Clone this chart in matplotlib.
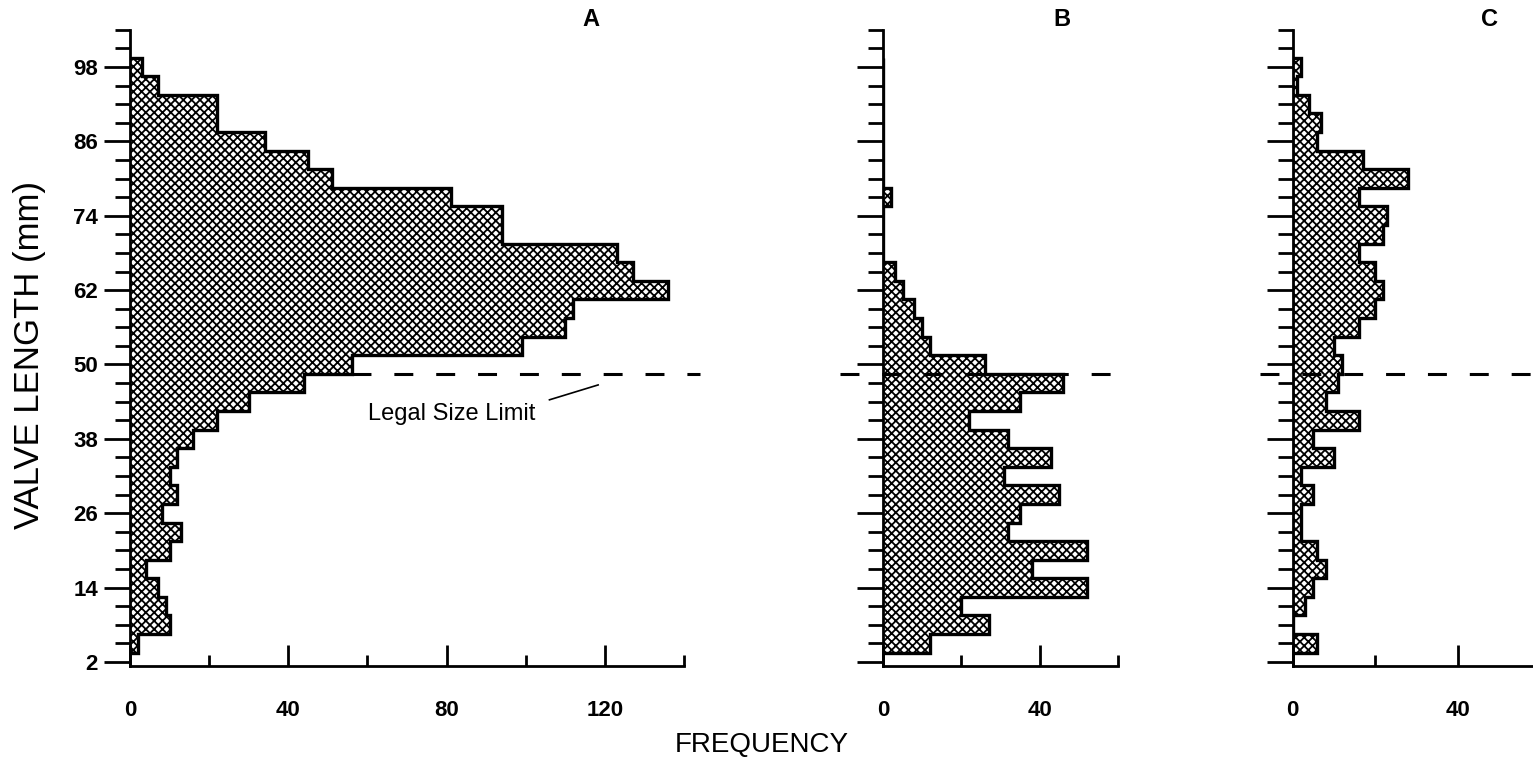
import numpy as np
import matplotlib.pyplot as plt

plt.rcParams['font.family'] = ['Liberation Sans', 'DejaVu Sans']
plt.rcParams['hatch.linewidth'] = 1.3

# Longitud de la valva (centros de clase, mm) y frecuencias
centros = [5, 8, 11, 14, 17, 20, 23, 26, 29, 32, 35, 38, 41, 44, 47, 50,
           53, 56, 59, 62, 65, 68, 71, 74, 77, 80, 83, 86, 89, 92, 95, 98]
frec_a = [2, 10, 9, 7, 4, 10, 13, 8, 12, 10, 12, 16, 22, 30, 44, 56,
          99, 110, 112, 136, 127, 123, 94, 94, 81, 51, 45, 34, 22, 22, 7, 3]
frec_b = [12, 27, 20, 52, 38, 52, 32, 35, 45, 31, 43, 32, 22, 35, 46, 26,
          12, 10, 8, 5, 3, 0, 0, 0, 2, 0, 0, 0, 0, 0, 0, 0]
frec_c = [6, 0, 3, 5, 8, 6, 2, 2, 5, 2, 10, 5, 16, 8, 11, 12,
          10, 16, 20, 22, 20, 16, 22, 23, 16, 28, 17, 6, 7, 4, 1, 2]
ancho = 3
talla_legal = 48.5

paneles = ['A', 'B', 'C']
xmax = [140, 60, 60]
xt_may = [[0, 40, 80, 120], [0, 40], [0, 40]]
xt_men = [[20, 60, 100, 140], [20, 60], [20, 60]]
yt_may = [2, 14, 26, 38, 50, 62, 74, 86, 98]
yt_men = [v for v in range(2, 105, 3) if v not in yt_may]

W, H = 1533, 762
fig = plt.figure(figsize=(W / 100, H / 100), dpi=100)
y0, y1 = 665.7, 29.8
pos = [(130, 684), (883, 1118), (1292.5, 1540)]
bordes = np.concatenate([[centros[0] - ancho / 2], np.array(centros) + ancho / 2])

ejes = []
for i, datos in enumerate([frec_a, frec_b, frec_c]):
    l, r = pos[i]
    ax = fig.add_axes([l / W, (H - y0) / H, (r - l) / W, (y0 - y1) / H])
    ax.stairs(datos, bordes, baseline=0, orientation='horizontal', fill=True,
              facecolor='white', edgecolor='black', hatch='xxxx', linewidth=2.4)
    ax.set_xlim(0, xmax[i])
    ax.set_ylim(1.4, 104)
    for s in ['top', 'right']:
        ax.spines[s].set_visible(False)
    for s in ['left', 'bottom']:
        ax.spines[s].set_linewidth(2.0)
    ax.set_yticks(yt_may)
    ax.set_yticks(yt_men, minor=True)
    ax.set_xticks(xt_may[i])
    ax.set_xticks(xt_men[i], minor=True)
    ax.tick_params(axis='y', which='major', direction='out', length=19, width=2.0, pad=4,
                   labelsize=16)
    ax.tick_params(axis='y', which='minor', direction='out', length=11, width=2.0)
    ax.tick_params(axis='x', which='major', direction='in', length=15, width=2.0, pad=25,
                   labelsize=16)
    ax.tick_params(axis='x', which='minor', direction='in', length=8, width=2.0)
    for t in ax.get_xticklabels() + ax.get_yticklabels():
        t.set_fontweight('bold')
    if i > 0:
        ax.set_yticklabels([])
    ejes.append(ax)

# Linea de talla legal
ejes[0].plot([56, 144], [talla_legal, talla_legal], color='black', lw=2.2,
             dashes=(6.2, 7.5), clip_on=False)
ejes[1].plot([-11, 61], [talla_legal, talla_legal], color='black', lw=2.2,
             dashes=(6.2, 7.5), clip_on=False)
ejes[2].plot([-8, 70], [talla_legal, talla_legal], color='black', lw=2.2,
             dashes=(6.2, 7.5), clip_on=False)

ejes[0].text(81.4, 42, 'Legal Size Limit', fontsize=17, ha='center', va='center')
ejes[0].plot([106, 118.3], [44.3, 46.7], color='black', lw=1.2)

for x, letra in zip([591, 1062, 1490], paneles):
    fig.text(x / W, 1 - 20 / H, letra, fontsize=17, fontweight='bold',
             ha='center', va='center')

fig.text(762 / W, 1 - 745 / H, 'FREQUENCY', fontsize=20, ha='center', va='center')
fig.text(30 / W, 1 - 355 / H, 'VALVE LENGTH (mm)', fontsize=25, rotation=90,
         ha='center', va='center')

fig.savefig('out.png', dpi=100)
